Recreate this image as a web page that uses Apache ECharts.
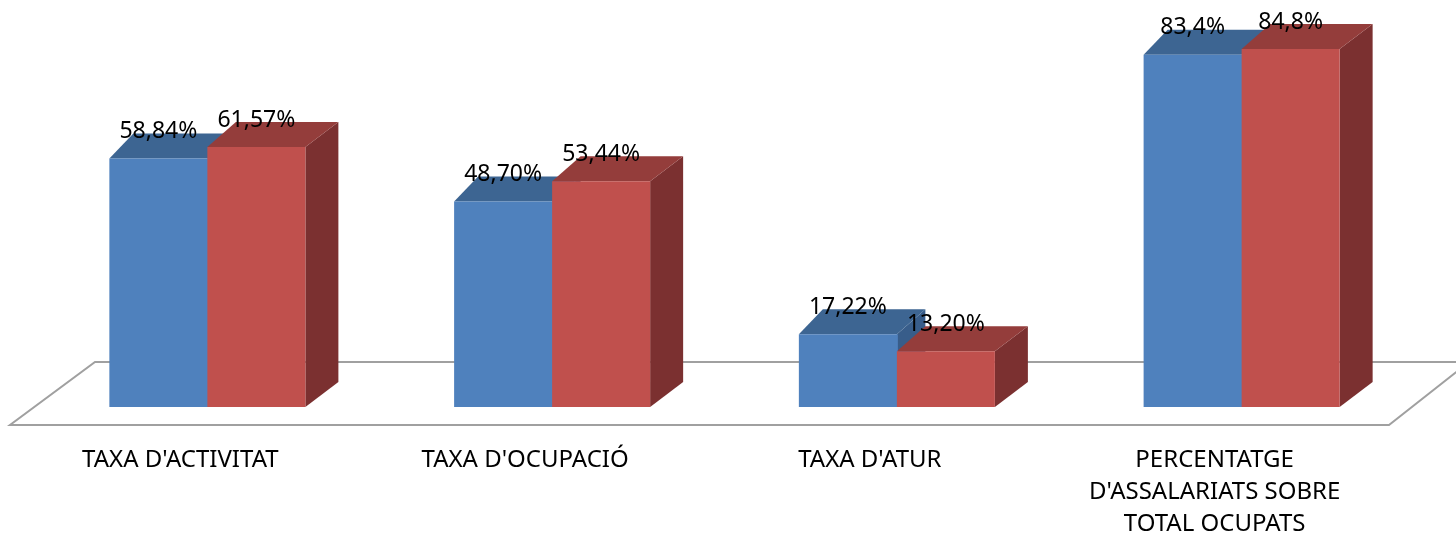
<!DOCTYPE html>
<html>
<head>
<meta charset="utf-8">
<script src="https://cdn.jsdelivr.net/npm/echarts@6/dist/echarts.min.js"></script>
<style>
  html, body { margin: 0; padding: 0; background: #fff; }
  #chart { width: 1456px; height: 536px; }
</style>
</head>
<body>
<div id="chart"></div>
<script>
const categories = [
  "TAXA D'ACTIVITAT",
  "TAXA D'OCUPACIÓ",
  "TAXA D'ATUR",
  "PERCENTATGE\nD'ASSALARIATS SOBRE\nTOTAL OCUPATS"
];
const valuesBlue = [58.84, 48.70, 17.22, 83.4];
const valuesRed = [61.57, 53.44, 13.20, 84.8];
const labelsBlue = ['58,84%', '48,70%', '17,22%', '83,4%'];
const labelsRed = ['61,57%', '53,44%', '13,20%', '84,8%'];

const chart = echarts.init(document.getElementById('chart'));

// 3d bar: front face, top face and right side face
const makeBar = (slot, colors, labels) => (params, api) => {
  const i = api.value(0);
  const base = api.coord([i, 0]);
  const top = api.coord([i, api.value(1)]);
  const band = api.size([1, 0])[0];
  const w = band * 0.2843;
  const gL = base[0] - w, gR = base[0] + w;
  const x0 = slot === 0 ? gL : base[0];
  const x1 = x0 + w;
  const dx = (x) => 24 + 9 * (x - gL) / (gR - gL);
  const dy = -25;
  const y0 = base[1], y1 = top[1];
  // left bar front runs 1px under the right one, so no seam shows
  const fw = slot === 0 ? w + 1 : w;
  return {
    type: 'group',
    children: [
      {
        type: 'polygon',
        shape: { points: [[x1, y0], [x1 + dx(x1), y0 + dy], [x1 + dx(x1), y1 + dy], [x1, y1]] },
        style: { fill: colors.side }
      },
      {
        type: 'polygon',
        shape: { points: [[x0, y1], [x1, y1], [x1 + dx(x1), y1 + dy], [x0 + dx(x0), y1 + dy]] },
        style: { fill: colors.top }
      },
      {
        type: 'rect',
        shape: { x: x0, y: y1, width: fw, height: y0 - y1 },
        style: { fill: colors.front }
      },
      {
        type: 'text',
        z2: 100,
        style: {
          x: x0 + w / 2,
          y: y1 - 27,
          text: labels[i],
          fill: '#000',
          font: '23px "Noto Sans"',
          align: 'center',
          verticalAlign: 'middle'
        }
      }
    ]
  };
};

const renderFloor = (params, api) => {
  const cs = params.coordSys;
  const fy = cs.y + cs.height + 18;
  const by = cs.y + cs.height - 45;
  return {
    type: 'polygon',
    shape: {
      points: [
        [cs.x - 25, fy],
        [cs.x + cs.width - 25, fy],
        [cs.x + cs.width + 55, by],
        [cs.x + 60, by]
      ]
    },
    style: { fill: '#fff', stroke: '#A0A0A0', lineWidth: 2 }
  };
};

let option = {
  backgroundColor: '#fff',
  animation: false,
  grid: {
    left: 35,
    right: 42,
    top: 27,
    bottom: 129,
    outerBoundsMode: 'none'
  },
  xAxis: {
    type: 'category',
    data: categories,
    axisLine: { show: false },
    axisTick: { show: false },
    splitLine: { show: false },
    axisLabel: {
      interval: 0,
      margin: 37,
      color: '#000',
      fontSize: 24,
      lineHeight: 32,
      fontFamily: 'Noto Sans',
      padding: [0, 54, 0, 0]
    }
  },
  yAxis: {
    type: 'value',
    min: 0,
    max: 90,
    show: false
  },
  series: [
    {
      type: 'custom',
      z: 1,
      silent: true,
      clip: false,
      renderItem: renderFloor,
      data: [[0, 0]]
    },
    {
      type: 'custom',
      z: 2,
      clip: false,
      renderItem: makeBar(0, { front: '#4F81BD', top: '#3D6592', side: '#385D8A' }, labelsBlue),
      encode: { x: 0, y: 1 },
      data: valuesBlue.map((v, i) => [i, v])
    },
    {
      type: 'custom',
      z: 2,
      clip: false,
      renderItem: makeBar(1, { front: '#C0504D', top: '#943D3B', side: '#7B3030' }, labelsRed),
      encode: { x: 0, y: 1 },
      data: valuesRed.map((v, i) => [i, v])
    }
  ]
};

chart.setOption(option);
</script>
</body>
</html>
